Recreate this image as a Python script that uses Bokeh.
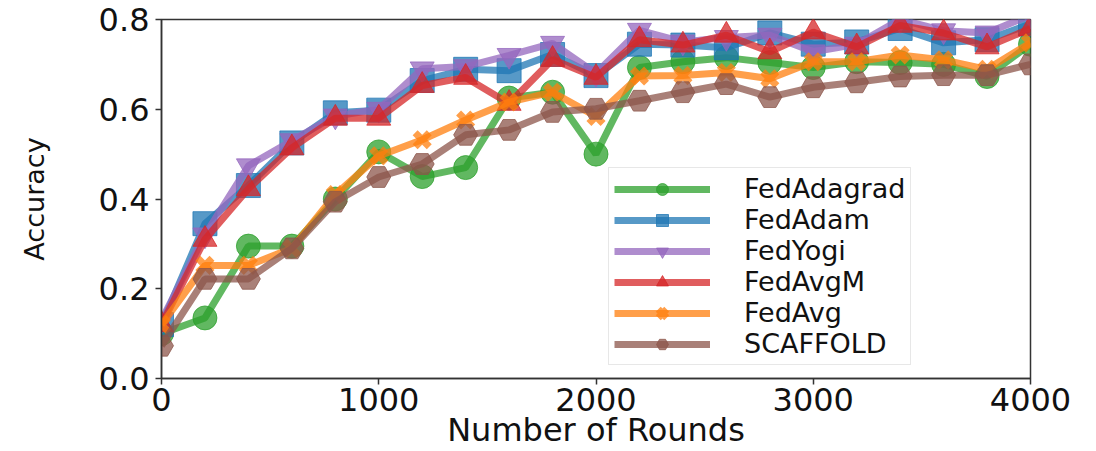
from bokeh.plotting import figure
from bokeh.models import Range1d, FixedTicker, PrintfTickFormatter
from bokeh.embed import file_html
from bokeh.resources import INLINE

rounds = [0, 200, 400, 600, 800, 1000, 1200, 1400, 1600, 1800, 2000,
          2200, 2400, 2600, 2800, 3000, 3200, 3400, 3600, 3800, 4000]

fedadagrad = [0.10, 0.135, 0.295, 0.295, 0.40, 0.505, 0.45, 0.47, 0.625, 0.638, 0.50,
              0.693, 0.706, 0.715, 0.704, 0.693, 0.706, 0.704, 0.70, 0.673, 0.745]
fedadam = [0.12, 0.345, 0.43, 0.525, 0.592, 0.598, 0.664, 0.689, 0.686, 0.722, 0.675,
           0.745, 0.743, 0.737, 0.77, 0.745, 0.75, 0.78, 0.748, 0.755, 0.79]
fedyogi = [0.13, 0.32, 0.474, 0.53, 0.585, 0.60, 0.69, 0.695, 0.72, 0.747, 0.68,
           0.776, 0.75, 0.76, 0.765, 0.728, 0.745, 0.80, 0.775, 0.77, 0.81]
fedavgm = [0.12, 0.31, 0.423, 0.514, 0.58, 0.58, 0.653, 0.671, 0.613, 0.711, 0.671,
           0.755, 0.743, 0.765, 0.728, 0.772, 0.739, 0.787, 0.77, 0.739, 0.78]
fedavg = [0.12, 0.252, 0.252, 0.29, 0.41, 0.496, 0.532, 0.576, 0.616, 0.638, 0.584,
          0.674, 0.675, 0.682, 0.668, 0.706, 0.706, 0.721, 0.71, 0.689, 0.748]
scaffold = [0.073, 0.222, 0.222, 0.29, 0.394, 0.449, 0.478, 0.543, 0.554, 0.594, 0.601,
            0.619, 0.638, 0.656, 0.627, 0.649, 0.66, 0.673, 0.676, 0.676, 0.70]

series_names = ["FedAdagrad", "FedAdam", "FedYogi", "FedAvgM", "FedAvg", "SCAFFOLD"]
series_values = [fedadagrad, fedadam, fedyogi, fedavgm, fedavg, scaffold]
series_colors = ["#2ca02c", "#1f77b4", "#9467bd", "#d62728", "#ff7f0e", "#8c564b"]
series_markers = ["circle", "square", "inverted_triangle", "triangle", "x", "hex"]

x_ticks = [0, 1000, 2000, 3000, 4000]
y_ticks = [0.0, 0.2, 0.4, 0.6, 0.8]

FONT = "DejaVu Sans"

p = figure(width=1096, height=451, x_range=Range1d(0, 4000), y_range=Range1d(0, 0.8),
           output_backend="svg", toolbar_location=None,
           min_border_left=161, min_border_right=66, min_border_top=19, min_border_bottom=71)

p.xgrid.visible = False
p.ygrid.visible = False
p.outline_line_color = "#333333"
p.outline_line_width = 1.5
p.background_fill_color = "white"
p.border_fill_color = "white"

for name, vals, col, mk in zip(series_names, series_values, series_colors, series_markers):
    p.line(rounds, vals, line_color=col, line_width=7, line_alpha=0.75, legend_label=name)
    if mk == "x":
        p.scatter(rounds, vals, marker=mk, size=20, line_color=col, line_width=7,
                  line_alpha=0.75, legend_label=name)
    else:
        p.scatter(rounds, vals, marker=mk, size=24, fill_color=col, line_color=col,
                  fill_alpha=0.75, line_alpha=0.75, legend_label=name)

for ax in (p.xaxis[0], p.yaxis[0]):
    ax.axis_line_color = "#333333"
    ax.axis_line_width = 1.5
    ax.major_tick_line_color = "#333333"
    ax.major_tick_line_width = 1.5
    ax.major_tick_out = 6
    ax.major_tick_in = 0
    ax.minor_tick_out = 0
    ax.minor_tick_in = 0
    ax.major_label_text_font = FONT
    ax.major_label_text_font_size = "32px"
    ax.major_label_text_color = "#111111"
    ax.axis_label_text_font = FONT
    ax.axis_label_text_font_style = "normal"
    ax.axis_label_text_color = "#111111"

p.xaxis.ticker = FixedTicker(ticks=x_ticks)
p.yaxis.ticker = FixedTicker(ticks=y_ticks)
p.yaxis.formatter = PrintfTickFormatter(format="%.1f")
p.xaxis.axis_label = "Number of Rounds"
p.yaxis.axis_label = "Accuracy"
p.xaxis.axis_label_text_font_size = "32px"
p.yaxis.axis_label_text_font_size = "27px"
p.xaxis.major_label_standoff = 3
p.xaxis.axis_label_standoff = -3
p.yaxis.major_label_standoff = 6
p.yaxis.axis_label_standoff = 46

lg = p.legend[0]
lg.location = (447, 13)
lg.label_text_font = FONT
lg.label_text_font_size = "27px"
lg.label_text_color = "#111111"
lg.glyph_width = 96
lg.glyph_height = 30
lg.label_height = 30
lg.label_standoff = 34
lg.spacing = 0
lg.padding = 5
lg.margin = 0
lg.border_line_color = "#d0d0d0"
lg.border_line_width = 1
lg.background_fill_alpha = 0.85

open("out.html", "w").write(file_html(p, INLINE))
